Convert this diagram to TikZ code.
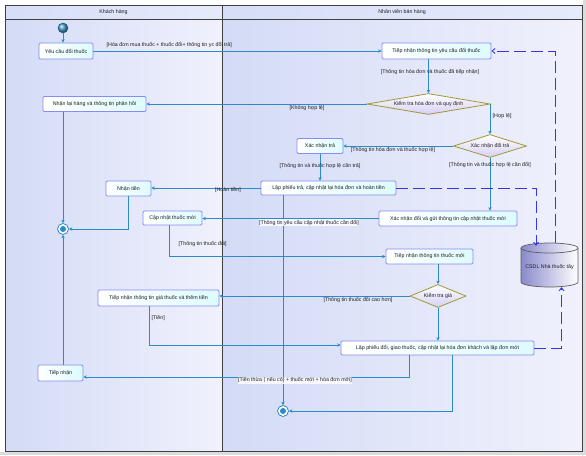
\documentclass[tikz,border=0pt]{standalone}
\usepackage{fontspec}
\setmainfont{Liberation Sans}
\usetikzlibrary{arrows.meta,shapes.geometric,calc}
\definecolor{flowc}{HTML}{2C8AC6}
\definecolor{boxd}{HTML}{8A8AF0}
\definecolor{boxf}{HTML}{DDFBFE}
\definecolor{decd}{HTML}{A09838}
\definecolor{decf}{HTML}{D6CFF6}
\definecolor{dashc}{HTML}{3535E6}
\definecolor{lanea}{HTML}{D3DBF6}
\definecolor{laneb}{HTML}{F0F1FC}
\definecolor{heada}{HTML}{D6DEF8}
\definecolor{headb}{HTML}{E6EBFB}
\definecolor{framec}{HTML}{404040}
\definecolor{txt}{HTML}{1E1E1E}
\definecolor{dbleft}{HTML}{8A8ACC}
\definecolor{outer}{HTML}{DCDCDC}
\begin{document}
\begin{tikzpicture}[x=1pt,y=-1pt, font=\fontsize{5.3}{6}\selectfont, text=txt,
 action/.style={rectangle, rounded corners=1.2pt, draw=boxd, line width=0.8pt, left color=white, right color=boxf, inner sep=0pt, align=center},
 decision/.style={diamond, draw=decd, line width=0.8pt, top color=white, bottom color=decf, inner sep=0pt},
 flow/.style={draw=flowc, line width=0.8pt, -{Stealth[length=3.4pt,width=3.4pt]}},
 dataflow/.style={draw=dashc, line width=0.9pt, dash pattern=on 12pt off 5pt, -{Straight Barb[length=3pt,width=5pt]}},
 guard/.style={inner sep=0.5pt},
 guardbg/.style={inner sep=0.5pt, fill=white, fill opacity=0.8, text opacity=1},
 finalnode/.style={circle, minimum size=11pt, inner sep=0pt, draw=flowc, line width=0.8pt, fill=white,
   path picture={\fill[flowc] (path picture bounding box.center) circle (3pt);}},
 lanetitle/.style={inner sep=0pt},
 lanefill/.style={shading=axis, left color=lanea, right color=laneb, shading angle=70},
]
\useasboundingbox (0,0) rectangle (586,455);
% background
\fill[white] (0,0) rectangle (586,455);
\fill[outer] (583,0) rectangle (586,455);
\fill[outer] (0,452) rectangle (586,455);
% lanes
\shade[left color=lanea, right color=laneb] (5,19) rectangle (222,451);
\shade[left color=lanea, right color=laneb] (222,19) rectangle (582,451);
\shade[left color=heada, right color=headb] (5,5) rectangle (222,19);
\shade[left color=heada, right color=headb] (222,5) rectangle (582,19);
\draw[framec, line width=0.8pt] (5,5) rectangle (582,451);
\draw[framec, line width=0.8pt] (5,19) -- (582,19);
\draw[framec, line width=0.8pt] (222,5) -- (222,451);
\node[lanetitle] (h1) at (113.5,12) {Khách hàng};
\node[lanetitle] (h2) at (402,12) {Nhân viên bán hàng};

% nodes
\node[circle, minimum size=10pt, inner sep=0pt, draw=flowc!70!black, line width=0.5pt, ball color=flowc!85] (init) at (63,28) {};
\node[action, minimum width=54pt, minimum height=16pt] (yc) at (66,51) {Yêu cầu đổi thuốc};
\node[action, minimum width=109pt, minimum height=16pt] (tnyc) at (436.5,51) {Tiếp nhận thông tin yêu cầu đổi thuốc};
\node[decision, minimum width=123pt, minimum height=21pt, aspect=5.9] (kt) at (428.5,104) {Kiểm tra hóa đơn và quy định};
\node[action, minimum width=103pt, minimum height=15pt] (nlh) at (94.5,104) {Nhận lại hàng và thông tin phản hồi};
\node[decision, minimum width=73pt, minimum height=23pt, aspect=3.2] (xndt) at (490,146) {Xác nhận đổi trả};
\node[action, minimum width=46pt, minimum height=15pt] (xnt) at (320,146) {Xác nhận trả};
\node[action, minimum width=135pt, minimum height=14pt] (lpt) at (328.5,188) {Lập phiếu trả, cập nhật lại hóa đơn và hoàn tiền};
\node[action, minimum width=45pt, minimum height=15pt] (nt) at (128.5,188.5) {Nhận tiền};
\node[finalnode] (fin1) at (63,229) {};
\node[action, minimum width=59pt, minimum height=14pt] (cn) at (172.5,218) {Cập nhật thuốc mới};
\node[action, minimum width=138pt, minimum height=15pt] (xndg) at (448,218.5) {Xác nhận đổi và gửi thông tin cập nhật thuốc mới};
\node[action, minimum width=87pt, minimum height=15pt] (tnm) at (429.5,256.5) {Tiếp nhận thông tin thuốc mới};
\node[decision, minimum width=56pt, minimum height=23pt, aspect=2.4] (kg) at (438,296) {Kiểm tra giá};
\node[action, minimum width=121pt, minimum height=16pt] (tng) at (158.5,298) {Tiếp nhận thông tin giá thuốc và thêm tiền};
\node[action, minimum width=193pt, minimum height=14pt] (lpd) at (437.5,348) {Lập phiếu đổi, giao thuốc, cập nhật lại hóa đơn khách và lập đơn mới};
\node[action, minimum width=45pt, minimum height=16pt] (tn) at (60.5,373) {Tiếp nhận};
\node[finalnode] (fin2) at (283,411) {};

% database
\node[minimum width=57pt, minimum height=44pt, inner sep=0pt] (db) at (549.5,265) {};
\shade[left color=dbleft, right color=white, draw=framec!85, line width=0.7pt]
  (521,248) -- (521,282) arc[start angle=180, end angle=360, x radius=28.5pt, y radius=5pt]
  -- (578,248) arc[start angle=0, end angle=180, x radius=28.5pt, y radius=5pt] -- cycle;
\draw[framec!85, line width=0.7pt] (521,248) arc[start angle=180, end angle=360, x radius=28.5pt, y radius=5pt];
\node[inner sep=0pt] (dbt) at (549.5,267) {CSDL Nhà thuốc tây};

% control flows
\draw[flow] (init) -- (init |- yc.north);
\draw[flow] (yc.east) -- (tnyc.west);
\node[guard, anchor=south west] (g1) at (106,48.5) {[Hóa đơn mua thuốc + thuốc đổi+ thông tin yc đổi trả]};
\draw[flow] (kt.north |- tnyc.south) -- (kt.north);
\node[guard] (g2) at (430,72) {[Thông tin hóa đơn và thuốc đã tiếp nhận]};
\draw[flow] (kt.west) -- (kt.west -| nlh.east);
\node[guard] (g3) at (307,108) {[Không hợp lệ]};
\draw[flow] (kt.east) -| (xndt.north);
\node[guard, anchor=west] (g4) at (492,116) {[Hợp lệ]};
\draw[flow] (xndt.west) -- (xnt.east);
\node[guard] (g5) at (393,150.5) {[Thông tin hóa đơn và thuốc hợp lệ]};
\draw[flow] (xndt.south) -- (xndt.south |- xndg.north);
\node[guard] (g6) at (490,165) {[Thông tin và thuốc hợp lệ cần đổi]};
\draw[flow] (xnt.south) -- (xnt.south |- lpt.north);
\node[guard] (g7) at (320,166) {[Thông tin và thuốc hợp lệ cần trả]};
\draw[flow] (lpt.west) -- (lpt.west -| nt.east);
\node[guard] (g8) at (228,190.5) {[Hoàn tiền]};
\draw[flow] (nt.south) |- (fin1.east);
\draw[flow] (nlh.south -| fin1) -- (fin1.north);
\draw[flow] (fin1 |- tn.north) -- (fin1.south);
\draw[flow] (lpt.south -| fin2) -- (fin2.north);
\draw[flow] (xndg.west) -- (xndg.west -| cn.east);
\node[guardbg] (g9) at (309,222.5) {[Thông tin yêu cầu cập nhật thuốc cần đổi]};
\draw[flow] ([xshift=-3pt]cn.south) |- (tnm.west);
\node[guard, anchor=west] (g10) at (178,244) {[Thông tin thuốc đổi]};
\draw[flow] (kg.north |- tnm.south) -- (kg.north);
\draw[flow] (kg.west) -- (kg.west -| tng.east);
\node[guard] (g11) at (358,299.5) {[Thông tin thuốc đổi cao hơn]};
\draw[flow] (kg.south) -- (kg.south |- lpd.north);
\draw[flow] ([xshift=-9pt]tng.south) |- ([yshift=3pt]lpd.west);
\node[guard, anchor=west] (g12) at (151,318) {[Tiền]};
\draw[flow] ([xshift=-28.5pt]lpd.south) |- ([yshift=-4pt]tn.east);
\node[guardbg] (g13) at (295,380.5) {[Tiền thừa ( nếu có) + thuốc mới + hóa đơn mới]};
\draw[flow] ([xshift=14.5pt]lpd.south) |- (fin2.east);

% object flows
\draw[dataflow] (lpt.east) -| ([xshift=-13.5pt,yshift=-3pt]db.north);
\draw[dataflow] ([xshift=5.5pt]db.north) |- (tnyc.east);
\draw[dataflow] (lpd.east) -| ([xshift=12pt]db.south);
\end{tikzpicture}
\end{document}
